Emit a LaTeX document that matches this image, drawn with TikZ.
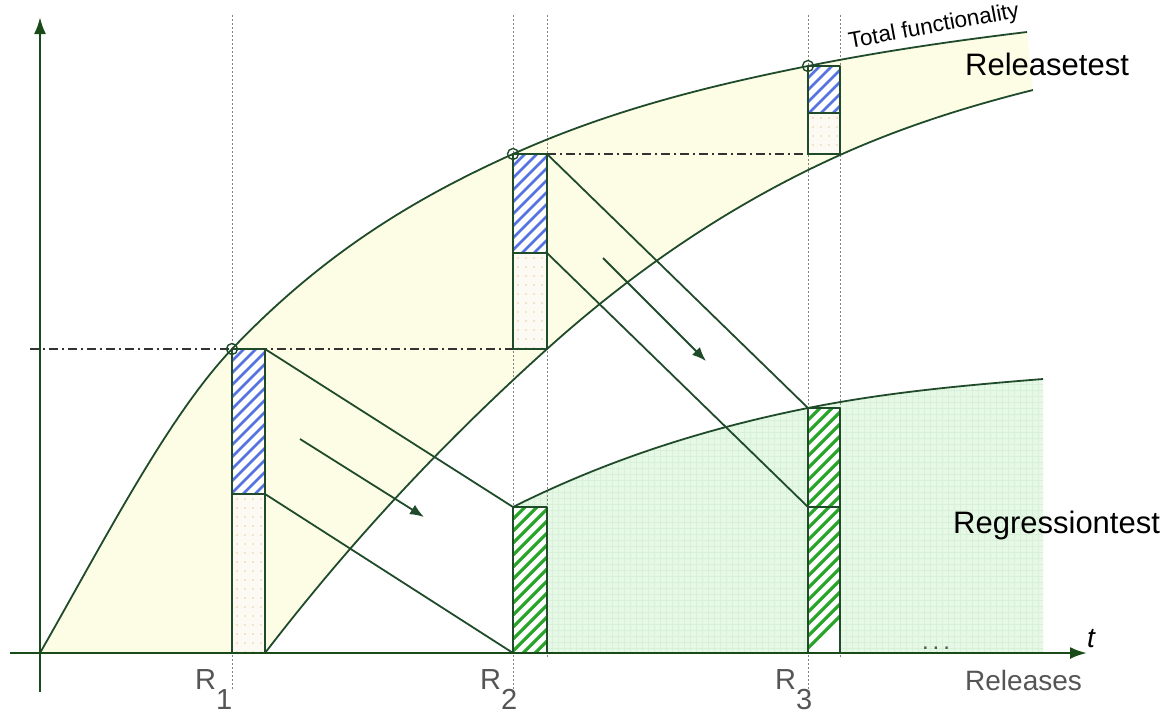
\documentclass[tikz,border=0pt]{standalone}
\usepackage{fontspec}
\setmainfont{Liberation Sans}
\usetikzlibrary{arrows.meta}
\definecolor{linegreen}{RGB}{32,75,42}
\definecolor{axisgreen}{RGB}{25,75,25}
\definecolor{bandyellow}{RGB}{253,253,230}
\definecolor{regfill}{RGB}{230,248,230}
\definecolor{reggrid}{RGB}{216,240,216}
\definecolor{hatchblue}{RGB}{85,115,225}
\definecolor{hatchgreen}{RGB}{40,165,40}
\definecolor{dotbg}{RGB}{253,249,243}
\definecolor{dotfg}{RGB}{236,205,160}
\definecolor{guidegray}{RGB}{130,130,130}
\definecolor{labelgray}{RGB}{85,85,85}
\newcommand{\hatchrect}[5]{%
  \begin{scope}
    \clip (#1,#2) rectangle (#3,#4);
    \fill[white] (#1,#2) rectangle (#3,#4);
    \foreach \t in {0,12,...,240} \draw[#5] (#1,#2+\t) -- ++(80,-80);
  \end{scope}}
\newcommand{\dotrect}[4]{%
  \begin{scope}
    \clip (#1,#2) rectangle (#3,#4);
    \fill[dotbg] (#1,#2) rectangle (#3,#4);
    \foreach \i in {0,1,2,3} \foreach \j in {0,...,18}
      \fill[dotfg] (#1+5+\i*8, #2+5+\j*9) circle (0.9pt);
  \end{scope}}
\def\upperpath{(40,653) .. controls (104,541) and (168,416.2) .. (232,349)
  .. controls (325.7,250.6) and (419.3,196.2) .. (513,154)
  .. controls (611.3,109.8) and (709.7,85.7) .. (808,66)
  .. controls (881,51.4) and (954,40.8) .. (1027,32)}
\def\lowerpath{(265,653) .. controls (359,530.8) and (453,433.6) .. (547,349)
  .. controls (644.7,261.1) and (742.3,199) .. (840,155)
  .. controls (904.3,126.1) and (968.7,106.1) .. (1033,90)}
\def\lowerback{(1033,90) .. controls (968.7,106.1) and (904.3,126.1) .. (840,155)
  .. controls (742.3,199) and (644.7,261.1) .. (547,349)
  .. controls (453,433.6) and (359,530.8) .. (265,653)}
\def\regpath{(513,507) .. controls (611.3,457.8) and (709.7,427.7) .. (808,408)
  .. controls (886.3,392.3) and (964.7,385.3) .. (1043,379)}
\begin{document}
\begin{tikzpicture}[x=1pt,y=-1pt,line join=round,
  bandcurve/.style={linegreen,line width=1.8pt},
  conn/.style={linegreen,line width=1.8pt},
  flowarrow/.style={linegreen,line width=1.8pt,-{Latex[length=14pt,width=11pt]}},
  guide/.style={guidegray,line width=1pt,dash pattern=on 1.5pt off 2.5pt},
  dashdotline/.style={black!80,line width=1.8pt,dash pattern=on 9pt off 4pt on 2pt off 4pt},
  barframe/.style={linegreen,line width=1.8pt},
  bluehatch/.style={hatchblue,line width=2.6pt},
  greenhatch/.style={hatchgreen,line width=3.2pt},
  axisline/.style={axisgreen,line width=2.5pt,-{Latex[length=17pt,width=12pt]}},
  bigtext/.style={font=\fontsize{31}{36}\selectfont,inner sep=0pt,anchor=base west},
  rlabel/.style={font=\fontsize{29}{34}\selectfont,text=labelgray,inner sep=0pt,anchor=base west}]
\useasboundingbox (0,0) rectangle (1173,713);
% yellow band
\fill[bandyellow] \upperpath -- \lowerback -- cycle;
% green regression area
\begin{scope}
  \clip (513,653) -- \regpath -- (1043,653) -- cycle;
  \fill[regfill] (500,370) rectangle (1050,660);
  \draw[reggrid,line width=0.4pt,step=6pt] (510,370) grid (1050,660);
\end{scope}
% guides
\foreach \gx/\gy in {232/690,513/690,547/658,808/690,840/658}
  \draw[guide] (\gx,15) -- (\gx,\gy);
% coordinates
\coordinate (O) at (40,653);
\coordinate (A1) at (232,349); \coordinate (B1) at (265,349);
\coordinate (C1) at (232,494); \coordinate (D1) at (265,494);
\coordinate (E1) at (232,653); \coordinate (F1) at (265,653);
\coordinate (A2) at (513,154); \coordinate (B2) at (547,154);
\coordinate (C2) at (513,253); \coordinate (D2) at (547,253);
\coordinate (E2) at (513,349); \coordinate (F2) at (547,349);
\coordinate (G2) at (513,507); \coordinate (H2) at (547,507);
\coordinate (I2) at (513,653); \coordinate (J2) at (547,653);
\coordinate (A3) at (808,66); \coordinate (B3) at (840,66);
\coordinate (C3) at (808,113); \coordinate (D3) at (840,113);
\coordinate (E3) at (808,154); \coordinate (F3) at (840,154);
\coordinate (G3) at (808,408); \coordinate (H3) at (840,408);
\coordinate (K3) at (808,507); \coordinate (L3) at (840,507);
\coordinate (I3) at (808,653); \coordinate (J3) at (840,653);
\coordinate (H1) at (30,349);
% dash-dot levels
\draw[dashdotline] (H1) -- (E2);
\draw[dashdotline] (B2) -- (F3);
% bars R1
\hatchrect{232}{349}{265}{494}{bluehatch}
\dotrect{232}{494}{265}{653}
\draw[barframe] (A1) rectangle (F1); \draw[barframe] (C1) -- (D1);
% bars R2
\hatchrect{513}{154}{547}{253}{bluehatch}
\dotrect{513}{253}{547}{349}
\draw[barframe] (A2) rectangle (F2); \draw[barframe] (C2) -- (D2);
\hatchrect{513}{507}{547}{653}{greenhatch}
\draw[barframe] (G2) rectangle (J2);
% bars R3
\hatchrect{808}{66}{840}{113}{bluehatch}
\dotrect{808}{113}{840}{154}
\draw[barframe] (A3) rectangle (F3); \draw[barframe] (C3) -- (D3);
\hatchrect{808}{408}{840}{653}{greenhatch}
\draw[barframe] (G3) rectangle (J3); \draw[barframe] (K3) -- (L3);
% curves
\draw[bandcurve] \upperpath;
\draw[bandcurve] \lowerpath;
\draw[bandcurve] \regpath;
% connectors
\draw[conn] (B1) -- (G2);
\draw[conn] (D1) -- (I2);
\draw[conn] (B2) -- (G3);
\draw[conn] (D2) -- (K3);
\coordinate (a1s) at (300,439); \coordinate (a1e) at (424,517);
\coordinate (a2s) at (603,258); \coordinate (a2e) at (706,361);
\draw[flowarrow] (a1s) -- (a1e);
\draw[flowarrow] (a2s) -- (a2e);
% circles
\foreach \c in {A1,A2,A3} \draw[linegreen,line width=1.4pt] (\c) circle (5.5pt);
% axes
\coordinate (ybot) at (40,692); \coordinate (ytop) at (40,17);
\coordinate (xleft) at (10,653); \coordinate (xright) at (1087,653);
\draw[axisline] (ybot) -- (ytop);
\draw[axisline] (xleft) -- (xright);
% texts
\node[rotate=10.5,font=\fontsize{22.5}{26}\selectfont,inner sep=0pt] (tf) at (934,27) {Total functionality};
\node[bigtext] (rel) at (965,75) {Releasetest};
\node[bigtext] (reg) at (953,533) {Regressiontest};
\node[font=\fontsize{28}{32}\itshape,inner sep=0pt,anchor=base west] (tt) at (1087,647) {t};
\node[font=\fontsize{24}{28}\selectfont,text=labelgray,inner sep=0pt,anchor=base] (dots) at (936,649) {.\hspace{4pt}.\hspace{4pt}.};
\node[rlabel,font=\fontsize{28}{32}\selectfont] (rs) at (965,690) {Releases};
\node[rlabel] (r1) at (195,689) {R\raisebox{-20pt}{1}};
\node[rlabel] (r2) at (480,689) {R\raisebox{-20pt}{2}};
\node[rlabel] (r3) at (775,689) {R\raisebox{-20pt}{3}};
\end{tikzpicture}
\end{document}
